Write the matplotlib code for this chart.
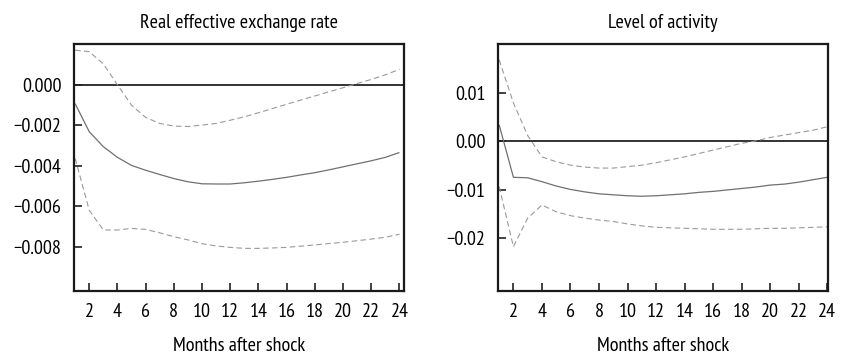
import matplotlib
matplotlib.use("Agg")
import matplotlib.pyplot as plt
from matplotlib import font_manager

names = {f.name for f in font_manager.fontManager.ttflist}
fam = 'DejaVu Sans'
for cand in ['Myriad Pro Condensed', 'Myriad Pro', 'PT Sans Narrow', 'Fira Sans Condensed',
             'Roboto Condensed', 'Archivo Narrow', 'Roboto']:
    if cand in names:
        fam = cand
        break
plt.rcParams['font.family'] = [fam, 'DejaVu Sans']

months = list(range(1, 25))

reer_mid = [-0.00092, -0.00231, -0.00305, -0.00358, -0.00398, -0.00422, -0.00443, -0.00463,
            -0.00479, -0.00489, -0.00490, -0.00490, -0.00484, -0.00476, -0.00467, -0.00457,
            -0.00445, -0.00434, -0.00420, -0.00405, -0.00390, -0.00375, -0.00358, -0.00334]
reer_up = [0.00173, 0.00166, 0.00105, 0.00002, -0.00100, -0.00160, -0.00190, -0.00203,
           -0.00205, -0.00198, -0.00190, -0.00174, -0.00157, -0.00137, -0.00116, -0.00095,
           -0.00074, -0.00054, -0.00033, -0.00013, 0.00008, 0.00028, 0.00051, 0.00078]
reer_lo = [-0.00363, -0.00620, -0.00718, -0.00718, -0.00710, -0.00715, -0.00732, -0.00751,
           -0.00767, -0.00786, -0.00797, -0.00804, -0.00809, -0.00809, -0.00807, -0.00804,
           -0.00798, -0.00792, -0.00785, -0.00779, -0.00771, -0.00763, -0.00754, -0.00739]

act_mid = [0.0034, -0.0074, -0.0075, -0.0083, -0.0092, -0.0099, -0.0104, -0.0108,
           -0.0110, -0.0112, -0.0113, -0.0112, -0.0110, -0.0108, -0.0105, -0.0103,
           -0.0100, -0.0097, -0.0094, -0.0090, -0.0088, -0.0084, -0.0079, -0.0074]
act_up = [0.0168, 0.0079, 0.0012, -0.0032, -0.0042, -0.0049, -0.0053, -0.0055,
          -0.0055, -0.0052, -0.0049, -0.0044, -0.0038, -0.0032, -0.0025, -0.0018,
          -0.0011, -0.0004, 0.0001, 0.0008, 0.0013, 0.0018, 0.0023, 0.0030]
act_lo = [-0.0093, -0.0217, -0.0158, -0.0131, -0.0145, -0.0153, -0.0158, -0.0162,
          -0.0165, -0.0170, -0.0174, -0.0177, -0.0178, -0.0179, -0.0180, -0.0181,
          -0.0181, -0.0181, -0.0180, -0.0179, -0.0179, -0.0178, -0.0177, -0.0176]

xticks = list(range(2, 25, 2))
reer_yticks = [0.000, -0.002, -0.004, -0.006, -0.008]
reer_ylabels = ['0.000', '\u22120.002', '\u22120.004', '\u22120.006', '\u22120.008']
act_yticks = [0.01, 0.00, -0.01, -0.02]
act_ylabels = ['0.01', '0.00', '\u22120.01', '\u22120.02']

fig = plt.figure(figsize=(8.41, 3.57), dpi=100)
ax1 = fig.add_axes([0.088, 0.185, 0.392, 0.6925])
ax2 = fig.add_axes([0.592, 0.185, 0.3925, 0.6925])

panels = [
    (ax1, 'Real effective exchange rate', reer_mid, reer_up, reer_lo, reer_yticks, reer_ylabels,
     (0.92, 24.3), (-0.0102, 0.00205)),
    (ax2, 'Level of activity', act_mid, act_up, act_lo, act_yticks, act_ylabels,
     (0.91, 24.05), (-0.0308, 0.0201)),
]

fs = 14.5
for ax, title, mid, up, lo, yt, yl, xl, ylim in panels:
    ax.axhline(0, color='#333333', lw=1.4, zorder=1)
    ax.plot(months, mid, color='#707070', lw=0.9, solid_capstyle='butt')
    ax.plot(months, up, color='#9a9a9a', lw=0.8, linestyle=(0, (5, 3)))
    ax.plot(months, lo, color='#9a9a9a', lw=0.8, linestyle=(0, (5, 3)))
    ax.set_xlim(*xl)
    ax.set_ylim(*ylim)
    ax.set_xticks(xticks)
    ax.set_xticklabels([str(t) for t in xticks])
    ax.set_yticks(yt)
    ax.set_yticklabels(yl)
    ax.tick_params(axis='x', direction='in', length=6, width=1.2, pad=9, labelsize=fs, color='#222222')
    ax.tick_params(axis='y', direction='in', length=6, width=1.2, pad=9, labelsize=fs, color='#222222')
    for s in ax.spines.values():
        s.set_linewidth(1.6)
        s.set_color('#1a1a1a')
    ax.set_title(title, fontsize=fs, pad=11)
    ax.set_xlabel('Months after shock', fontsize=fs, labelpad=11)

fig.savefig('out.png', dpi=100)
